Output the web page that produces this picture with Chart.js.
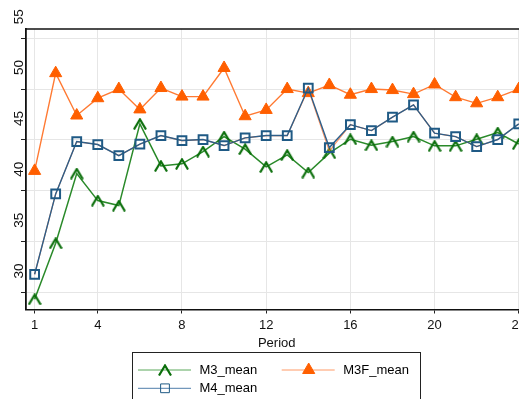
<!DOCTYPE html>
<html>
<head>
<meta charset="utf-8">
<script src="https://cdn.jsdelivr.net/npm/chart.js@4.4.0/dist/chart.umd.min.js"></script>
<style>
  html, body { margin: 0; padding: 0; background: #fff; overflow: hidden; }
  #wrap { width: 519px; height: 399px; overflow: hidden; }
</style>
</head>
<body>
<div id="wrap"><canvas id="chart" width="545" height="399"></canvas></div>
<script>
// === Data ===
const periods = [1, 2, 3, 4, 5, 6, 7, 8, 9, 10, 11, 12, 13, 14, 15, 16, 17, 18, 19, 20, 21, 22, 23, 24];
const xTicks = [1, 4, 8, 12, 16, 20, 24];
const yTicks = [30, 35, 40, 45, 50, 55];

const m3Mean = [29.35, 34.85, 41.7, 39.04, 38.55, 46.58, 42.45, 42.65, 43.86, 45.33, 44.1, 42.35,
                43.53, 41.8, 43.7, 45.07, 44.48, 44.84, 45.33, 44.42, 44.42, 45.07, 45.72, 44.6];
const m3fMean = [41.96, 51.56, 47.4, 49.1, 50.0, 48.0, 50.1, 49.26, 49.26, 52.07, 47.33, 47.95,
                 50.0, 49.6, 50.4, 49.44, 50.0, 49.9, 49.5, 50.45, 49.2, 48.6, 49.2, 50.0];
const m4Mean = [31.8, 39.7, 44.84, 44.55, 43.46, 44.58, 45.43, 44.94, 45.04, 44.45, 45.2, 45.43,
                45.43, 50.1, 44.25, 46.5, 45.92, 47.24, 48.45, 45.66, 45.33, 44.35, 45.04, 46.58];
// thin orange trace that runs along the M4 squares (not in the legend)
const m4Trace = [31.8, 39.7, 44.84, 44.55, 43.46, 44.58, 45.43, 44.94, 45.04, 44.45, 45.2, 45.43,
                 45.43, 50.0, 43.9, 46.5, 45.92, 47.24, 48.45, 45.66, 45.33, 44.35, 45.04, 46.58];

// === Style ===
const FONT = '"Liberation Sans", Arial, Helvetica, sans-serif';
const GREEN = '#0a6e0a';
const GREEN_LINE = '#2a8a2a';
const ORANGE = '#ff5f00';
const ORANGE_LINE = '#ff7a33';
const BLUE = '#1f5a85';
const BLUE_LINE = '#2e5f8a';

// hollow "^" marker used by M3
function makeChevron(color) {
    const c = document.createElement('canvas');
    c.width = 14;
    c.height = 12;
    const g = c.getContext('2d');
    g.strokeStyle = color;
    g.lineWidth = 2.2;
    g.beginPath();
    g.moveTo(1, 11.5);
    g.lineTo(7, 1.5);
    g.lineTo(13, 11.5);
    g.stroke();
    return c;
}
const chevron = makeChevron(GREEN);

const toPoints = arr => periods.map((p, i) => ({ x: p, y: arr[i] }));

// === Plugins ===
// top edge of the plot region (Stata draws a full outline)
const frame = {
    id: 'frame',
    afterDraw(chart) {
        const { ctx, chartArea } = chart;
        ctx.save();
        ctx.strokeStyle = '#111';
        ctx.lineWidth = 1.3;
        ctx.beginPath();
        ctx.moveTo(chartArea.left, chartArea.top);
        ctx.lineTo(chartArea.right + 20, chartArea.top);
        ctx.stroke();
        ctx.restore();
    }
};

const legendBox = {
    id: 'legendBox',
    afterDraw(chart) {
        const ctx = chart.ctx;
        const sets = chart.data.datasets;
        ctx.save();
        ctx.strokeStyle = '#222';
        ctx.lineWidth = 1;
        ctx.strokeRect(132.5, 352.5, 288, 60);

        const items = [
            { ds: 3, x: 138, y: 370, lineColor: '#5aa85a' },
            { ds: 2, x: 281.7, y: 370, lineColor: '#ff9a66' },
            { ds: 0, x: 138, y: 388.3, lineColor: '#4f7eaa' }
        ];
        items.forEach(it => {
            const d = sets[it.ds];
            ctx.strokeStyle = it.lineColor;
            ctx.lineWidth = 1;
            ctx.beginPath();
            ctx.moveTo(it.x, it.y);
            ctx.lineTo(it.x + 53, it.y);
            ctx.stroke();

            ctx.fillStyle = d.pointBackgroundColor;
            ctx.strokeStyle = d.pointBorderColor;
            Chart.helpers.drawPoint(ctx, {
                pointStyle: d.pointStyle,
                radius: d.pointRadius,
                borderWidth: d.pointBorderWidth,
                rotation: 0
            }, it.x + 27, it.y);

            ctx.fillStyle = '#000';
            ctx.font = '13px ' + FONT;
            ctx.textAlign = 'left';
            ctx.textBaseline = 'middle';
            ctx.fillText(d.label, it.x + 61.5, it.y);
        });
        ctx.restore();
    }
};

// === Chart ===
const ctx = document.getElementById('chart').getContext('2d');
new Chart(ctx, {
    type: 'line',
    data: {
        datasets: [
            {
                label: 'M4_mean',
                data: toPoints(m4Mean),
                borderColor: BLUE_LINE,
                borderWidth: 1.4,
                pointStyle: 'rect',
                pointRadius: 6.2,
                pointBorderWidth: 2,
                pointBorderColor: BLUE,
                pointBackgroundColor: 'rgba(0,0,0,0)'
            },
            {
                label: 'M4_trace',
                data: toPoints(m4Trace),
                borderColor: 'rgba(255,110,40,0.75)',
                borderWidth: 1.2,
                pointRadius: 0
            },
            {
                label: 'M3F_mean',
                data: toPoints(m3fMean),
                borderColor: ORANGE_LINE,
                borderWidth: 1.4,
                pointStyle: 'triangle',
                pointRadius: 7,
                pointBorderWidth: 1,
                pointBorderColor: ORANGE,
                pointBackgroundColor: ORANGE
            },
            {
                label: 'M3_mean',
                data: toPoints(m3Mean),
                borderColor: GREEN_LINE,
                borderWidth: 1.5,
                pointStyle: chevron,
                pointRadius: 6,
                pointBorderWidth: 0,
                pointBorderColor: GREEN,
                pointBackgroundColor: GREEN
            }
        ]
    },
    options: {
        responsive: false,
        animation: false,
        devicePixelRatio: 1,
        layout: { padding: { top: 29, right: 17.6, bottom: 47.5, left: 0 } },
        elements: { line: { tension: 0 } },
        plugins: {
            legend: { display: false },
            tooltip: { enabled: false }
        },
        scales: {
            x: {
                type: 'linear',
                min: 0.59,
                max: 24.41,
                afterBuildTicks: scale => { scale.ticks = xTicks.map(v => ({ value: v })); },
                afterFit: scale => { scale.height = 42; },
                grid: { color: '#e6e6e6', lineWidth: 1, tickLength: 4, tickColor: '#222' },
                border: { color: '#111', width: 1.5 },
                ticks: {
                    color: '#111',
                    padding: 4.5,
                    maxRotation: 0,
                    font: { family: FONT, size: 13 },
                    callback: v => String(v)
                },
                title: {
                    display: true,
                    text: 'Period',
                    color: '#111',
                    padding: 0,
                    font: { family: FONT, size: 13 }
                }
            },
            y: {
                type: 'linear',
                min: 28.34,
                max: 55.9,
                afterBuildTicks: scale => { scale.ticks = yTicks.map(v => ({ value: v })); },
                afterFit: scale => { scale.width = 26; },
                grid: { color: '#e6e6e6', lineWidth: 1, tickLength: 5, tickColor: '#222' },
                border: { color: '#111', width: 1.8 },
                ticks: {
                    color: '#111',
                    padding: 2,
                    minRotation: 90,
                    maxRotation: 90,
                    labelOffset: -29,
                    font: { family: FONT, size: 13.5 },
                    callback: v => String(v)
                }
            }
        }
    },
    plugins: [frame, legendBox]
});
</script>
</body>
</html>
